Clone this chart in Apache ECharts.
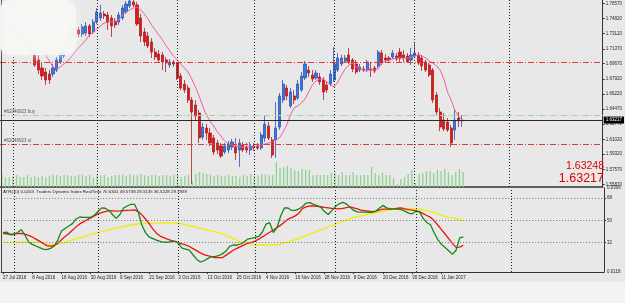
<!DOCTYPE html>
<html><head><meta charset="utf-8">
<script src="https://cdn.jsdelivr.net/npm/echarts@6/dist/echarts.min.js"></script>
<style>html,body{margin:0;padding:0;background:#e8e8e8;}#c{width:625px;height:303px;}</style>
</head><body><div id="c"></div>
<script>
// ---- tick labels ----
const tickLabels = ['27 Jul 2016','8 Aug 2016','18 Aug 2016','30 Aug 2016','9 Sep 2016','21 Sep 2016','3 Oct 2016','13 Oct 2016','25 Oct 2016','4 Nov 2016','16 Nov 2016','28 Nov 2016','8 Dec 2016','20 Dec 2016','30 Dec 2016','11 Jan 2017'];
const priceTicks = [1.76570,1.74820,1.73120,1.71370,1.69670,1.67920,1.66220,1.64470,1.62770,1.61020,1.59320,1.57570,1.55870];
const tdiLevels = [32,50,68];
const atrScale = [0.0118,0.0306];
const monthStarts = [3,26,48,69,91,113,139];
// ---- price data (daily bars) ----
const opens = [1.7352,1.7398,1.7443,1.7409,1.7352,1.7375,1.7306,1.7237,1.7180,1.7089,
1.7009,1.6917,1.6871,1.6848,1.6848,1.6894,1.6986,1.7054,1.7180,1.7260,
1.7283,1.7352,1.7306,1.7317,1.7398,1.7329,1.7443,1.7489,1.7535,1.7523,
1.7489,1.7455,1.7443,1.7489,1.7558,1.7626,1.7672,1.7638,1.7489,1.7329,
1.7283,1.7215,1.7100,1.7077,1.7066,1.7009,1.6951,1.6986,1.6974,1.6826,
1.6734,1.6688,1.6551,1.6494,1.6402,1.6128,1.6231,1.6174,1.6116,1.6059,
1.6025,1.5956,1.5979,1.6013,1.6013,1.5979,1.6036,1.6013,1.5979,1.6025,
1.6025,1.6002,1.6116,1.6254,1.6094,1.6094,1.6242,1.6551,1.6688,1.6482,
1.6597,1.6574,1.6665,1.6803,1.6894,1.6837,1.6803,1.6814,1.6780,1.6723,
1.6734,1.6780,1.6894,1.6963,1.6997,1.7066,1.7009,1.6963,1.6894,1.6906,
1.6894,1.6906,1.6917,1.6940,1.7089,1.7031,1.7031,1.7043,1.7054,1.7100,
1.7066,1.7054,1.7009,1.7054,1.7066,1.7031,1.6986,1.6951,1.6894,1.6608,
1.6414,1.6322,1.6299,1.6231,1.6208,1.6345,1.6311];
const closes = [1.7398,1.7443,1.7409,1.7352,1.7375,1.7306,1.7237,1.7180,1.7100,1.6951,
1.6894,1.6826,1.6780,1.6780,1.6917,1.7009,1.7100,1.7157,1.7317,1.7352,
1.7375,1.7306,1.7386,1.7398,1.7306,1.7443,1.7558,1.7546,1.7512,1.7443,
1.7398,1.7409,1.7523,1.7603,1.7649,1.7683,1.7638,1.7420,1.7283,1.7215,
1.7169,1.7100,1.7043,1.7009,1.6986,1.6974,1.6986,1.6963,1.6803,1.6688,
1.6665,1.6551,1.6414,1.6368,1.6116,1.6242,1.6174,1.6059,1.5956,1.5979,
1.5910,1.6025,1.6048,1.6071,1.5945,1.6059,1.5979,1.5979,1.6025,1.6002,
1.6002,1.6151,1.6276,1.6116,1.5922,1.6231,1.6597,1.6734,1.6597,1.6643,
1.6551,1.6734,1.6826,1.6963,1.6860,1.6791,1.6860,1.6757,1.6643,1.6665,
1.6848,1.6963,1.7031,1.7031,1.7031,1.6986,1.6906,1.6871,1.6929,1.6894,
1.6986,1.6894,1.6883,1.7100,1.6974,1.7009,1.7009,1.7089,1.7020,1.7031,
1.7031,1.6986,1.7066,1.7089,1.6974,1.6940,1.6894,1.6837,1.6551,1.6414,
1.6242,1.6219,1.6208,1.6059,1.6322,1.6311,1.63217];
const highs = [1.7443,1.7489,1.7489,1.7443,1.7420,1.7398,1.7352,1.7272,1.7215,1.7123,
1.7066,1.6986,1.6917,1.6894,1.6963,1.7043,1.7146,1.7180,1.7352,1.7409,
1.7420,1.7386,1.7420,1.7443,1.7420,1.7478,1.7603,1.7638,1.7569,1.7558,
1.7523,1.7489,1.7558,1.7638,1.7683,1.7695,1.7695,1.7672,1.7535,1.7375,
1.7329,1.7260,1.7146,1.7123,1.7100,1.7043,1.7020,1.7009,1.6986,1.6860,
1.6780,1.6723,1.6585,1.6551,1.6437,1.6288,1.6276,1.6231,1.6151,1.6094,
1.6059,1.6059,1.6082,1.6105,1.6116,1.6105,1.6071,1.6059,1.6071,1.6059,
1.6059,1.6185,1.6379,1.6299,1.6128,1.6528,1.6631,1.6780,1.6723,1.6688,
1.6665,1.6780,1.6871,1.6997,1.6940,1.6894,1.6894,1.6860,1.6814,1.6757,
1.6894,1.7157,1.7089,1.7066,1.7066,1.7146,1.7031,1.7009,1.6963,1.6940,
1.7009,1.6986,1.6940,1.7123,1.7123,1.7077,1.7054,1.7123,1.7089,1.7146,
1.7123,1.7089,1.7146,1.7215,1.7100,1.7066,1.7009,1.6974,1.6917,1.6643,
1.6460,1.6402,1.6345,1.6265,1.6437,1.6414,1.6379];
const lows = [1.7306,1.7352,1.7375,1.7317,1.7295,1.7260,1.7192,1.7123,1.7066,1.6929,
1.6848,1.6780,1.6723,1.6734,1.6814,1.6871,1.6963,1.7031,1.7157,1.7226,
1.7237,1.7272,1.7272,1.7283,1.7272,1.7306,1.7420,1.7455,1.7478,1.7352,
1.7272,1.7375,1.7409,1.7466,1.7535,1.7603,1.7615,1.7398,1.7215,1.7169,
1.7146,1.7031,1.7009,1.6974,1.6894,1.6871,1.6917,1.6929,1.6780,1.6665,
1.6631,1.6517,1.5590,1.6322,1.6059,1.6094,1.6094,1.6025,1.5922,1.5933,
1.5888,1.5933,1.5945,1.5979,1.5865,1.5785,1.5956,1.5945,1.5922,1.5968,
1.5979,1.5979,1.6071,1.6094,1.5888,1.5888,1.6208,1.6517,1.6551,1.6460,
1.6505,1.6551,1.6643,1.6780,1.6814,1.6757,1.6780,1.6723,1.6551,1.6631,
1.6711,1.6757,1.6871,1.6940,1.6974,1.6963,1.6871,1.6848,1.6871,1.6871,
1.6871,1.6814,1.6860,1.6917,1.6951,1.6986,1.6986,1.7020,1.6997,1.6986,
1.6986,1.6974,1.6951,1.7031,1.6951,1.6883,1.6871,1.6814,1.6517,1.6379,
1.6196,1.6196,1.6185,1.6013,1.6094,1.6242,1.6242];
const maValues = [1.7352,1.7352,1.7352,1.7340,1.7329,1.7317,1.7295,1.7272,1.7237,1.7203,
1.7169,1.7134,1.7066,1.6997,1.6929,1.6906,1.6929,1.6963,1.6997,1.7043,
1.7100,1.7146,1.7192,1.7237,1.7295,1.7329,1.7363,1.7398,1.7432,1.7443,
1.7443,1.7443,1.7466,1.7523,1.7558,1.7580,1.7603,1.7615,1.7580,1.7535,
1.7478,1.7409,1.7352,1.7295,1.7237,1.7169,1.7112,1.7054,1.7009,1.6963,
1.6917,1.6871,1.6791,1.6700,1.6597,1.6482,1.6379,1.6311,1.6254,1.6185,
1.6139,1.6082,1.6048,1.6036,1.6025,1.6013,1.6013,1.6013,1.6013,1.6013,
1.6025,1.6036,1.6048,1.6059,1.6071,1.6094,1.6116,1.6185,1.6265,1.6379,
1.6460,1.6482,1.6517,1.6562,1.6643,1.6723,1.6768,1.6791,1.6791,1.6757,
1.6723,1.6700,1.6757,1.6837,1.6906,1.6951,1.6974,1.6929,1.6906,1.6894,
1.6894,1.6894,1.6894,1.6906,1.6974,1.6997,1.7009,1.7020,1.7031,1.7031,
1.7031,1.7031,1.7043,1.7054,1.7066,1.7054,1.7031,1.6997,1.6974,1.6940,
1.6894,1.6791,1.6643,1.6551,1.6437,1.6368,1.6322];
const volumes = [13000,10000,10000,11000,12000,10000,10000,12000,10000,11000,
10000,11000,10000,11000,12000,12000,11000,12000,12000,11000,
11000,12000,12000,11000,12000,10000,12000,12000,12000,10000,
11000,12000,12000,12000,11000,13000,12000,12000,13000,12000,
11000,12000,12000,11000,12000,12000,11000,12000,12000,10000,
11000,12000,6000,13000,15000,14000,13000,12000,11000,12000,
11000,11000,12000,11000,11000,10000,12000,11000,13000,11000,
12000,13000,13000,12000,12000,25000,19000,20000,21000,19000,
17000,16000,18000,17000,17000,12000,12000,12000,12000,12000,
14000,14000,12000,15000,12000,12000,15000,12000,12000,12000,
12000,20000,14000,12000,14000,12000,12000,9000,3000,8000,
10000,13000,17000,4000,13000,14000,16000,16000,14000,17000,
16000,18000,15000,12000,15000,18000,15000];
// ---- Traders Dynamic Index ----
const tdiGreen = [40.0,40.5,38.2,38.5,40.1,42.5,38.1,32.4,30.5,29.2,
27.8,26.7,26.2,27.2,29.0,34.0,41.3,43.4,45.4,47.3,
51.1,52.7,52.4,52.4,52.4,54.1,57.1,60.1,59.8,58.0,
54.5,51.6,54.7,60.0,61.6,63.0,63.0,57.0,46.2,40.0,
36.5,35.2,33.9,33.0,32.2,32.2,32.8,33.0,31.5,27.5,
26.7,25.9,22.1,18.5,16.2,17.2,18.9,20.5,20.5,21.3,
22.8,24.9,28.9,30.0,29.8,30.8,32.4,34.8,35.4,36.1,
36.9,40.5,47.0,48.1,40.1,44.2,53.5,60.0,60.0,58.0,
58.1,59.2,61.2,64.0,64.3,62.9,61.9,60.6,57.1,54.7,
57.9,61.2,63.4,64.5,63.3,60.7,58.0,56.9,56.7,56.6,
56.5,56.5,57.3,59.8,62.1,60.1,59.2,59.2,59.1,58.7,
57.5,55.8,55.3,57.3,56.8,51.6,48.2,46.4,39.9,34.4,
30.6,28.0,25.3,22.4,25.7,35.8,36.5];
const tdiRed = [39.3,39.1,38.7,38.9,39.2,39.4,38.8,37.8,36.5,34.8,
33.1,31.2,29.5,28.8,29.6,31.3,34.3,36.8,39.1,41.9,
44.7,47.1,48.7,50.4,52.0,53.6,55.2,56.2,57.1,57.8,
57.7,57.5,57.6,57.9,58.1,58.2,58.4,57.1,54.6,51.1,
47.3,43.1,39.6,37.2,35.9,34.8,33.8,33.0,31.9,30.9,
30.0,28.8,27.1,25.4,23.6,22.2,21.3,20.6,19.8,19.7,
19.7,21.6,23.6,25.7,27.2,28.7,30.1,31.4,32.2,33.1,
34.7,36.6,38.5,40.3,42.1,44.1,46.1,48.4,50.9,52.2,
53.6,55.8,59.7,60.9,61.7,61.6,61.3,61.0,60.5,60.1,
59.7,59.5,59.2,59.7,60.3,60.9,60.0,59.2,58.3,57.9,
57.5,57.1,57.5,58.2,59.0,59.0,59.1,59.3,59.8,60.1,
59.3,58.7,58.2,57.8,57.1,55.4,53.9,52.4,49.8,46.2,
42.5,38.9,35.2,31.3,28.1,28.3,29.8];
const tdiYellow = [32.1,32.1,32.1,32.1,32.1,32.1,32.1,32.1,32.1,32.1,
32.1,31.7,30.8,30.0,30.2,30.5,31.3,32.2,33.4,34.2,
35.0,35.8,36.6,37.4,38.3,39.2,40.1,40.9,41.6,42.3,
43.0,43.8,44.3,45.0,45.6,46.3,46.8,47.0,47.2,47.3,
47.5,47.6,47.7,47.8,48.0,48.1,47.9,47.8,47.6,47.2,
46.4,45.6,45.0,44.2,43.6,42.9,42.1,41.4,40.6,39.9,
38.9,37.7,36.5,35.2,33.9,32.6,32.0,31.3,30.7,30.0,
30.0,30.0,30.0,30.0,30.0,30.0,30.7,31.6,32.5,33.4,
34.3,35.2,36.5,37.7,38.9,40.1,41.3,42.3,43.4,44.6,
45.9,47.0,48.1,49.2,50.2,51.4,52.4,53.1,53.6,54.3,
54.9,55.4,56.0,56.6,57.2,57.9,58.4,58.8,59.1,59.5,
59.7,59.6,59.4,59.2,59.1,58.5,57.9,57.1,56.2,55.2,
54.1,53.2,52.4,51.9,51.3,50.6,49.6];
// ---- order / price levels ----
const tpLevel = 1.69823, buyLevel = 1.63715, bidLevel = 1.63217, slLevel = 1.60445;
const quoteTexts = ['1.63248','1.63217'];
const headerText = 'ATR(10) 0.0204  Traders Dynamic Index RealTime 70.6341 49.5738 28.5135 36.5228 29.7859';

const slotCount = 165;
const categories = Array.from({length: slotCount}, (_, i) => (i % 8 === 0 && i / 8 < tickLabels.length) ? tickLabels[i / 8] : '_' + i);
const candleData = opens.map((o, i) => [o, closes[i], lows[i], highs[i]]);
const FONT = '"Liberation Sans", Arial, sans-serif';
const txt = {fontSize: 4.5, color: '#1e1e1e', fontFamily: FONT};
const dashDot = [6, 2, 1, 2];
const sepLines = monthStarts.map(i => ({xAxis: categories[i], lineStyle: {color: '#222', type: [1, 2], width: 1}, label: {show: false}}));

const chart = echarts.init(document.getElementById('c'), null, {renderer: 'canvas'});
chart.setOption({
  animation: false,
  backgroundColor: '#e8e8e8',
  grid: [
    {left: 0, top: 0, width: 604, height: 187},
    {left: 0, top: 162, width: 604, height: 25},
    {left: 0, top: 188, width: 604, height: 84}
  ],
  xAxis: [
    {type: 'category', gridIndex: 0, data: categories, axisLine: {show: true, onZero: false, lineStyle: {color: '#333', width: 1.5}}, axisTick: {show: false}, axisLabel: {show: false}, splitLine: {show: false}},
    {type: 'category', gridIndex: 1, data: categories, show: false},
    {type: 'category', gridIndex: 2, data: categories, axisLine: {show: true, onZero: false, lineStyle: {color: '#333', width: 1}},
      axisTick: {show: true, alignWithLabel: true, length: 2, interval: (i, v) => !String(v).startsWith('_'), lineStyle: {color: '#333'}},
      axisLabel: Object.assign({interval: 0, align: 'left', margin: 3, formatter: v => String(v).startsWith('_') ? '' : v}, txt),
      splitLine: {show: false}}
  ],
  yAxis: [
    {type: 'value', gridIndex: 0, position: 'right', min: 1.55561, max: 1.76947, splitLine: {show: false},
      axisLine: {show: true, lineStyle: {color: '#333'}},
      axisTick: {show: true, length: 2, customValues: priceTicks, lineStyle: {color: '#333'}},
      axisLabel: Object.assign({customValues: priceTicks, margin: 3, formatter: v => v.toFixed(5)}, txt)},
    {type: 'value', gridIndex: 1, min: 0, max: 25000, show: false},
    {type: 'value', gridIndex: 2, position: 'right', min: 8.1, max: 76.2, splitLine: {show: false},
      axisLine: {show: true, lineStyle: {color: '#333'}},
      axisTick: {show: true, length: 2, customValues: tdiLevels, lineStyle: {color: '#333'}},
      axisLabel: Object.assign({customValues: tdiLevels, margin: 3, formatter: v => String(Math.round(v))}, txt)},
    {type: 'value', gridIndex: 2, position: 'right', min: 0.0118, max: 0.0306, splitLine: {show: false},
      axisLine: {show: false}, axisTick: {show: false},
      axisLabel: Object.assign({customValues: atrScale, margin: 3, formatter: v => v.toFixed(4)}, txt)}
  ],
  series: [
    {type: 'bar', xAxisIndex: 1, yAxisIndex: 1, data: volumes, barWidth: 1.3, itemStyle: {color: '#8ed38e'}, z: 1},
    {type: 'candlestick', xAxisIndex: 0, yAxisIndex: 0, data: candleData, barWidth: 2.6,
      itemStyle: {color: '#2b7fe6', color0: '#e8141a', borderColor: '#3350b0', borderColor0: '#a82222', borderWidth: 0.8},
      markLine: {symbol: 'none', silent: true, animation: false, precision: 5,
        data: [
          {yAxis: tpLevel, lineStyle: {color: '#e03a3a', type: dashDot, width: 1}, label: {show: false}},
          {yAxis: buyLevel, lineStyle: {color: '#9fd49f', type: dashDot, width: 1.2},
            label: Object.assign({show: true, position: 'insideStartTop', distance: [4, 1], formatter: '#62046923 buy'}, txt, {color: '#555'})},
          {yAxis: slLevel, lineStyle: {color: '#d04040', type: dashDot, width: 1},
            label: Object.assign({show: true, position: 'insideStartTop', distance: [4, 1], formatter: '#62046923 sl'}, txt, {color: '#555'})},
          {yAxis: bidLevel, lineStyle: {color: '#2a2a2a', type: 'solid', width: 1.2},
            label: Object.assign({show: true, position: 'end', distance: 1, formatter: bidLevel.toFixed(5), backgroundColor: '#000', padding: [1, 2]}, txt, {color: '#fff'})}
        ].concat(sepLines)
      }, z: 2},
    {type: 'line', xAxisIndex: 0, yAxisIndex: 0, data: maValues, showSymbol: false, lineStyle: {color: '#ee5fa7', width: 1}, z: 3},
    {type: 'line', xAxisIndex: 2, yAxisIndex: 2, data: tdiYellow, showSymbol: false, lineStyle: {color: '#f0ef00', width: 1.3},
      markLine: {symbol: 'none', silent: true, animation: false,
        data: tdiLevels.map(v => ({yAxis: v, lineStyle: {color: '#777', type: [1, 2], width: 1}, label: {show: false}})).concat(sepLines)}, z: 2},
    {type: 'line', xAxisIndex: 2, yAxisIndex: 2, data: tdiRed, showSymbol: false, lineStyle: {color: '#ee1111', width: 1.3}, z: 3},
    {type: 'line', xAxisIndex: 2, yAxisIndex: 2, data: tdiGreen, showSymbol: false, lineStyle: {color: '#178717', width: 1.3}, z: 4}
  ],
  graphic: [
    {type: 'line', shape: {x1: 1.5, y1: 0, x2: 1.5, y2: 272}, style: {stroke: '#444', lineWidth: 1}, z: 10},
    {type: 'rect', shape: {x: 0, y: 0, width: 76, height: 55, r: 10}, style: {fill: 'rgba(246,246,244,0.93)', shadowBlur: 10, shadowColor: 'rgba(246,246,244,0.9)'}, z: 100},
    {type: 'rect', shape: {x: 0, y: 282, width: 625, height: 21}, style: {fill: '#f3f3f1'}, z: 100},
    {type: 'text', x: 3, y: 191.5, style: {text: headerText, fontSize: 4.4, fontFamily: FONT, fill: '#222', verticalAlign: 'middle'}, z: 20},
    {type: 'text', x: 604, y: 166, style: {text: quoteTexts[0], fontSize: 10.5, fontFamily: FONT, fill: '#e00000', align: 'right', verticalAlign: 'middle'}, z: 20},
    {type: 'text', x: 604, y: 178.5, style: {text: quoteTexts[1], fontSize: 12.5, fontFamily: FONT, fill: '#e00000', align: 'right', verticalAlign: 'middle'}, z: 20}
  ]
});
</script></body></html>
